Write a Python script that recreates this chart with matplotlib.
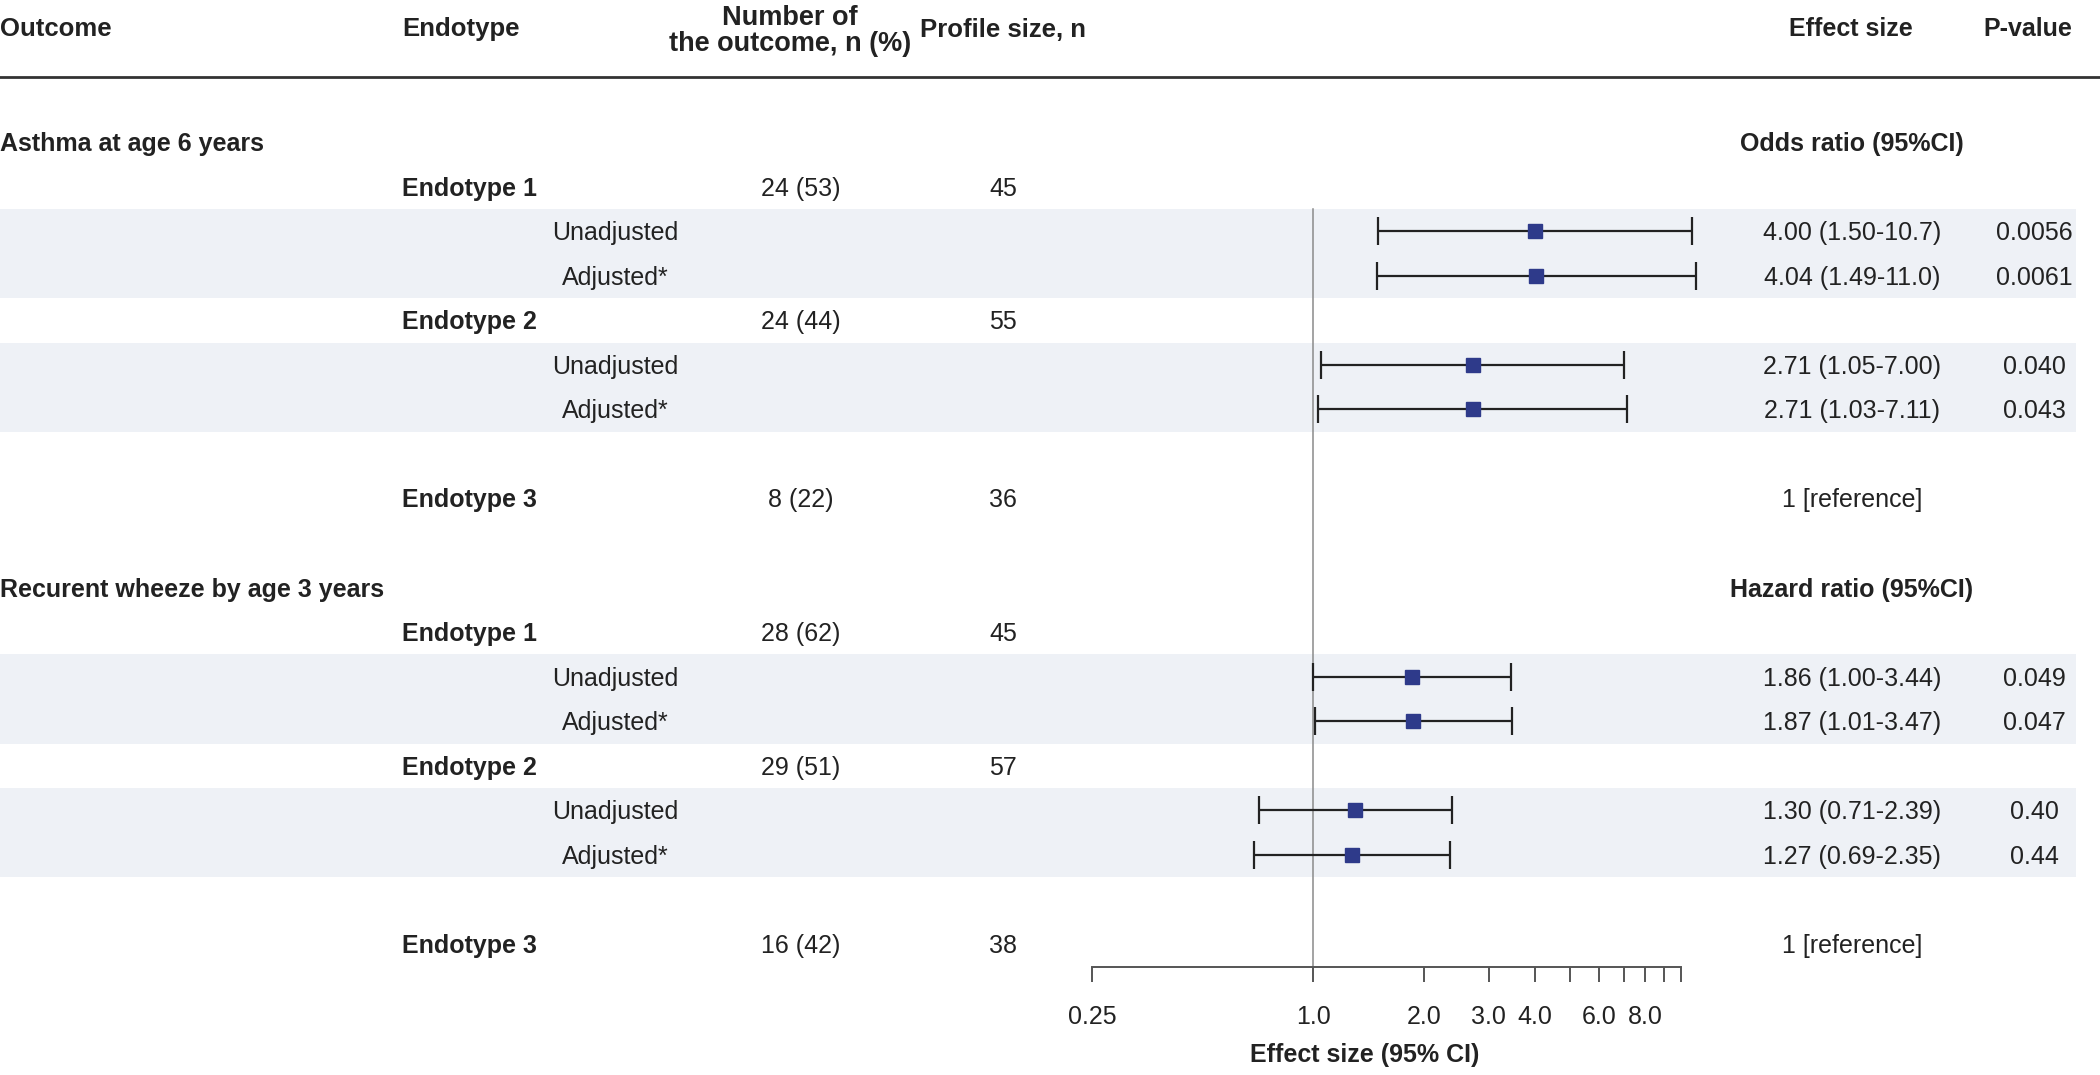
import numpy as np
import matplotlib
matplotlib.use("Agg")
import matplotlib.pyplot as plt

plt.rcParams['font.family'] = ['Liberation Sans', 'DejaVu Sans']

# ---------------- data ----------------
outcomes = ["Asthma at age 6 years", "Recurent wheeze by age 3 years"]
measure_labels = ["Odds ratio (95%CI)", "Hazard ratio (95%CI)"]
endotypes = ["Endotype 1", "Endotype 2", "Endotype 3"]
models = ["Unadjusted", "Adjusted*"]
n_outcome = [["24 (53)", "24 (44)", "8 (22)"], ["28 (62)", "29 (51)", "16 (42)"]]
profile_n = [[45, 55, 36], [45, 57, 38]]
# order: E1 unadj, E1 adj, E2 unadj, E2 adj
est_asthma = [4.00, 4.04, 2.71, 2.71]
lo_asthma = [1.50, 1.49, 1.05, 1.03]
hi_asthma = [10.7, 11.0, 7.00, 7.11]
p_asthma = ["0.0056", "0.0061", "0.040", "0.043"]
est_wheeze = [1.86, 1.87, 1.30, 1.27]
lo_wheeze = [1.00, 1.01, 0.71, 0.69]
hi_wheeze = [3.44, 3.47, 2.39, 2.35]
p_wheeze = ["0.049", "0.047", "0.40", "0.44"]
reference_label = "1 [reference]"
tick_values = [0.25, 1, 2, 3, 4, 5, 6, 7, 8, 9, 10]
tick_labels = ["0.25", "1.0", "2.0", "3.0", "4.0", "", "6.0", "", "8.0", "", ""]

est_all = [est_asthma, est_wheeze]
lo_all = [lo_asthma, lo_wheeze]
hi_all = [hi_asthma, hi_wheeze]
p_all = [p_asthma, p_wheeze]

# ---------------- layout ----------------
W, H = 2100, 1075
Y0, DY = 142, 44.56
AXIS_Y = 967
BLOCK = 10
TXT = '#222222'
NAVY = '#2E3A8A'
BAND = '#EEF1F6'
FS = 18
CAP = 9  # half cap-height in px for baseline placement

def ry(r):
    return Y0 + DY * r

def fmt_hi(h):
    return f"{h:.1f}" if h >= 10 else f"{h:.2f}"

fig = plt.figure(figsize=(W / 100, H / 100), dpi=100)
tax = fig.add_axes([0, 0, 1, 1])
tax.set_xlim(0, W)
tax.set_ylim(H, 0)
tax.axis('off')

def txt(x, y, s, ha='left', bold=False, size=FS, **kw):
    tax.text(x, y + CAP, s, ha=ha, va='baseline', fontsize=size, color=TXT,
             fontweight='bold' if bold else 'normal', **kw)

# header
txt(0, 27, "Outcome", bold=True, size=18.5)
txt(402, 27, "Endotype", bold=True, size=18.5)
tax.text(790, 31, "Number of\nthe outcome, n (%)", ha='center', va='center',
         fontsize=19.5, color=TXT, fontweight='bold', linespacing=1.0)
txt(920, 28, "Profile size, n", bold=True, size=18.5)
txt(1851, 27, "Effect size", ha='center', bold=True)
txt(2028, 27, "P-value", ha='center', bold=True)
tax.axhline(77, color='#333333', lw=2.0)

# forest axes
fax = fig.add_axes([1092 / W, 1 - AXIS_Y / H, 589 / W, AXIS_Y / H])
fax.set_xscale('log')
fax.set_xlim(0.25, 10)
fax.set_ylim(AXIS_Y, 0)
fax.patch.set_visible(False)
for s in ['top', 'left', 'right']:
    fax.spines[s].set_visible(False)
fax.spines['bottom'].set_color('#555555')
fax.spines['bottom'].set_linewidth(1.4)
fax.set_yticks([])
fax.xaxis.set_minor_locator(matplotlib.ticker.NullLocator())
fax.set_xticks(tick_values)
fax.set_xticklabels(tick_labels)
fax.tick_params(axis='x', which='major', length=10.5, width=1.4, color='#555555',
                labelsize=FS, labelcolor=TXT, pad=17)

band_top = ry(2) - DY / 2
fax.plot([1, 1], [band_top, AXIS_Y], color='#8a8a8a', lw=1.1, zorder=1)

for b in range(2):
    base = b * BLOCK
    txt(0, ry(base), outcomes[b], bold=True)
    txt(1852, ry(base), measure_labels[b], ha='center', bold=True)
    erows = [base + 1, base + 4, base + 8]
    for k, er in enumerate(erows):
        txt(402, ry(er), endotypes[k], bold=True)
        txt(801, ry(er), n_outcome[b][k], ha='center')
        txt(1003, ry(er), str(profile_n[b][k]), ha='center')
    txt(1852, ry(erows[2]), reference_label, ha='center')
    mrows = [base + 2, base + 3, base + 5, base + 6]
    for j in (0, 2):
        tax.axhspan(ry(mrows[j]) - DY / 2, ry(mrows[j + 1]) + DY / 2,
                    xmin=0, xmax=2076 / W, color=BAND, zorder=0, lw=0)
    e = np.array(est_all[b]); lo = np.array(lo_all[b]); hi = np.array(hi_all[b])
    ys = np.array([ry(r) for r in mrows])
    fax.errorbar(e, ys, xerr=[e - lo, hi - e], fmt='s', ms=10, mfc=NAVY, mec=NAVY,
                 ecolor='#222222', elinewidth=1.6, capsize=10, capthick=1.6,
                 clip_on=False, zorder=3)
    for j, r in enumerate(mrows):
        txt(615, ry(r), models[j % 2], ha='center')
        txt(1852, ry(r), f"{e[j]:.2f} ({lo[j]:.2f}-{fmt_hi(hi[j])})", ha='center')
        txt(2034, ry(r), p_all[b][j], ha='center')

tax.text(1365, 1055, "Effect size (95% CI)", ha='center', va='center', fontsize=FS,
         color=TXT, fontweight='bold')

fig.savefig("out.png", dpi=100)
